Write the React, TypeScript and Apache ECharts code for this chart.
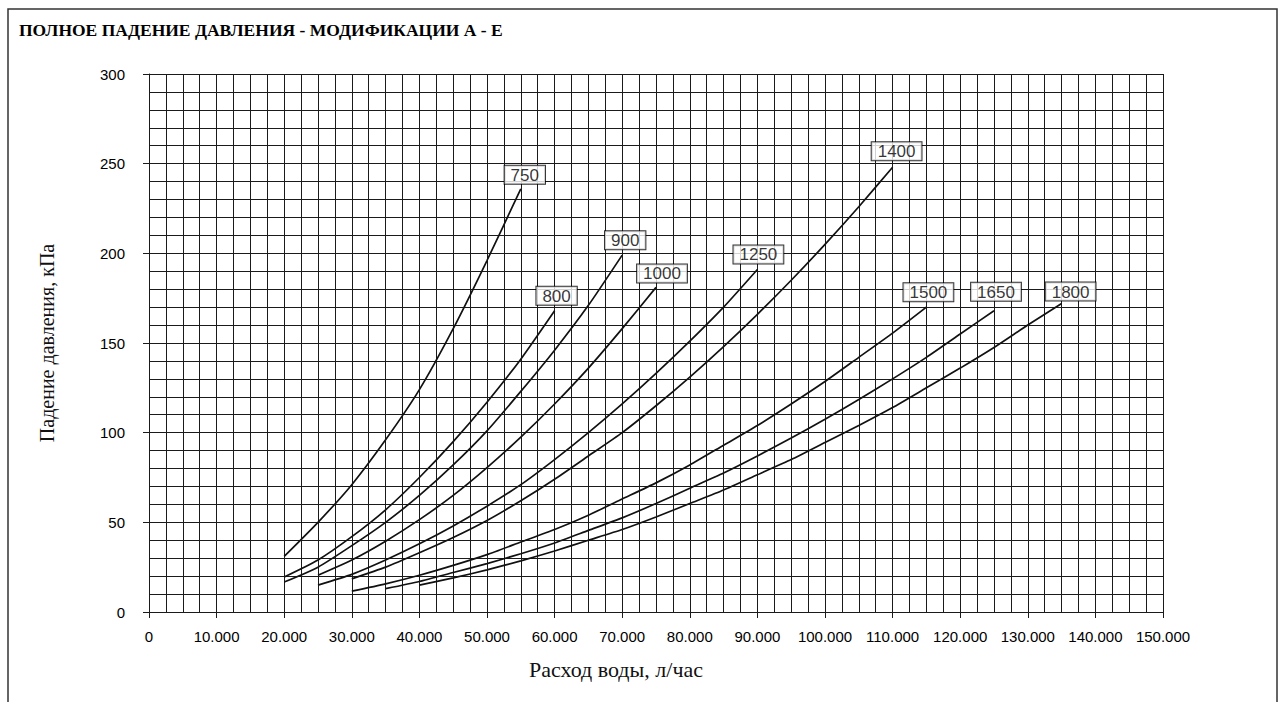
import React, { useEffect, useRef } from "react";
import * as echarts from "echarts";

// Flow rates (л/час) and total pressure drop (кПа) for each model size
const flow750 = [20000, 25000, 30000, 35000, 40000, 45000, 50000, 55000];
const drop750 = [31, 50, 71, 96, 124, 158, 196, 236];

const flow800 = [20000, 25000, 30000, 35000, 40000, 45000, 50000, 55000, 60000];
const drop800 = [19.5, 29, 42, 57, 75, 95, 117, 141, 168];

const flow900 = [20000, 25000, 30000, 35000, 40000, 45000, 50000, 55000, 60000, 65000, 70000];
const drop900 = [16.7, 25, 37, 50, 65, 82, 101, 123, 146, 171, 199];

const flow1000 = [25000, 30000, 35000, 40000, 45000, 50000, 55000, 60000, 65000, 70000, 75000];
const drop1000 = [20.5, 29, 39.5, 51.5, 65, 80.5, 97.5, 116, 136, 158, 181];

const flow1250 = [25000, 30000, 35000, 40000, 45000, 50000, 55000, 60000, 65000, 70000, 75000, 80000, 85000, 90000];
const drop1250 = [15, 21, 29, 38, 48, 59, 71, 85, 100, 116, 133, 151, 170, 191];

const flow1400 = [30000, 35000, 40000, 45000, 50000, 55000, 60000, 65000, 70000, 75000, 80000, 85000, 90000, 95000, 100000, 105000, 110000];
const drop1400 = [18.5, 25, 33, 41.5, 51, 62, 74, 87, 100, 115, 131, 148, 166, 185, 205, 226, 248];

const flow1500 = [30000, 35000, 40000, 45000, 50000, 55000, 60000, 65000, 70000, 75000, 80000, 85000, 90000, 95000, 100000, 105000, 110000, 115000];
const drop1500 = [11.6, 15.7, 20.5, 26, 32, 39, 46, 54, 63, 72, 82, 93, 104, 116, 128.5, 142, 155.5, 170];

const flow1650 = [35000, 40000, 45000, 50000, 55000, 60000, 65000, 70000, 75000, 80000, 85000, 90000, 95000, 100000, 105000, 110000, 115000, 120000, 125000];
const drop1650 = [13, 17, 22, 27, 32.5, 38.5, 45.5, 52.5, 60.5, 69, 77.5, 87, 97, 107.5, 118.5, 130, 142, 155, 168];

const flow1800 = [40000, 45000, 50000, 55000, 60000, 65000, 70000, 75000, 80000, 85000, 90000, 95000, 100000, 105000, 110000, 115000, 120000, 125000, 130000, 135000];
const drop1800 = [15, 19, 23.5, 28.5, 34, 40, 46, 53, 60.5, 68, 76.5, 85, 94.5, 104, 114, 125, 136, 147.5, 160, 172];

const curveNames = ["750", "800", "900", "1000", "1250", "1400", "1500", "1650", "1800"];
const curveFlows = [flow750, flow800, flow900, flow1000, flow1250, flow1400, flow1500, flow1650, flow1800];
const curveDrops = [drop750, drop800, drop900, drop1000, drop1250, drop1400, drop1500, drop1650, drop1800];

const TITLE = "ПОЛНОЕ ПАДЕНИЕ ДАВЛЕНИЯ - МОДИФИКАЦИИ А - Е";
const X_NAME = "Расход воды, л/час";
const Y_NAME = "Падение давления, кПа";

// Nudges for the size tags above each curve end (pixels)
const tagNudge: Record<string, [number, number]> = {
  "750": [4, 0],
  "800": [2, -1],
  "900": [3, -1],
  "1000": [6, 0],
  "1250": [1, -1],
  "1400": [4, -2],
  "1500": [2, -1],
  "1650": [2, -5],
  "1800": [9, 2],
};

const GRID_COLOR = "#1a1a1a";
const SANS = "Liberation Sans";
const SERIF = "Liberation Serif";

export default function App() {
  const ref = useRef<HTMLDivElement>(null);

  useEffect(() => {
    if (!ref.current) return;
    const chart = echarts.init(ref.current, undefined, { renderer: "svg" });

    const lineSeries = curveNames.map((name, i) => ({
      type: "line",
      name,
      data: curveFlows[i].map((f, j) => [f, curveDrops[i][j]]),
      showSymbol: false,
      symbol: "none",
      smooth: 0.2,
      lineStyle: { color: "#111", width: 1.7 },
      z: 3,
      silent: true,
    }));

    const tagSeries = {
      type: "scatter",
      symbolSize: 0,
      z: 5,
      silent: true,
      data: curveNames.map((name, i) => {
        const f = curveFlows[i];
        const d = curveDrops[i];
        return {
          name,
          value: [f[f.length - 1], d[d.length - 1]],
          label: { offset: tagNudge[name] },
        };
      }),
      label: {
        show: true,
        position: "top",
        distance: 5,
        formatter: (p: any) => p.name,
        fontFamily: SANS,
        fontSize: 17,
        color: "#000",
        backgroundColor: "#fff",
        borderColor: "#000",
        borderWidth: 1,
        padding: [1, 6, 0, 6],
      },
    };

    chart.setOption({
      animation: false,
      backgroundColor: "#fff",
      title: {
        text: TITLE,
        left: 14,
        top: 16,
        textStyle: {
          fontFamily: SERIF,
          fontSize: 17.5,
          fontWeight: "bold",
          color: "#000",
        },
      },
      graphic: [
        {
          type: "rect",
          shape: { x: 8, y: 9, width: 1269, height: 720 },
          style: { fill: "none", stroke: "#333", lineWidth: 1.5 },
          silent: true,
          z: 0,
        },
      ],
      grid: { left: 149, right: 117, top: 74, bottom: 90 },
      xAxis: {
        type: "value",
        min: 0,
        max: 150000,
        interval: 10000,
        name: X_NAME,
        nameLocation: "middle",
        nameGap: 46,
        nameTextStyle: {
          fontFamily: SERIF,
          fontSize: 22,
          color: "#111",
          padding: [0, 80, 0, 0],
        },
        axisLine: { show: true, lineStyle: { color: GRID_COLOR, width: 1 } },
        axisTick: { show: true, inside: false, length: 6, lineStyle: { color: GRID_COLOR } },
        axisLabel: {
          margin: 17,
          fontFamily: SANS,
          fontSize: 15,
          color: "#000",
          formatter: (v: number) => (v === 0 ? "0" : `${v / 1000}.000`),
        },
        splitLine: { show: true, lineStyle: { color: GRID_COLOR, width: 1 } },
        minorTick: { show: false, splitNumber: 4 },
        minorSplitLine: { show: true, lineStyle: { color: GRID_COLOR, width: 1 } },
      },
      yAxis: {
        type: "value",
        min: 0,
        max: 300,
        interval: 50,
        name: Y_NAME,
        nameLocation: "middle",
        nameGap: 92,
        nameTextStyle: { fontFamily: SERIF, fontSize: 20, color: "#111" },
        axisLine: { show: true, lineStyle: { color: GRID_COLOR, width: 1 } },
        axisTick: { show: true, inside: false, length: 6, lineStyle: { color: GRID_COLOR } },
        axisLabel: {
          margin: 24,
          fontFamily: SANS,
          fontSize: 15,
          color: "#000",
        },
        splitLine: { show: true, lineStyle: { color: GRID_COLOR, width: 1 } },
        minorTick: { show: false, splitNumber: 5 },
        minorSplitLine: { show: true, lineStyle: { color: GRID_COLOR, width: 1 } },
      },
      series: [...lineSeries, tagSeries],
    });

    return () => chart.dispose();
  }, []);

  return (
    <div
      ref={ref}
      style={{ position: "fixed", left: 0, top: 0, width: 1280, height: 702, background: "#fff" }}
    />
  );
}
